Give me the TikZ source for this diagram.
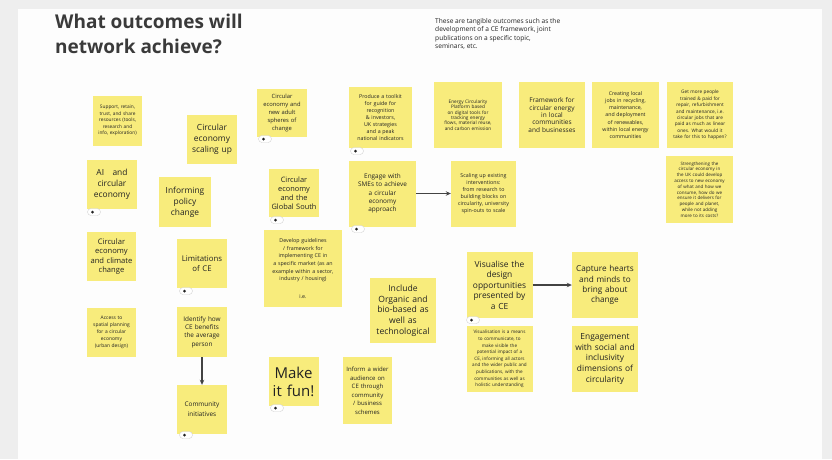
\documentclass[tikz,border=0pt]{standalone}
\usepackage{fontspec}
\setmainfont{Open Sans}
\usetikzlibrary{arrows.meta}
\definecolor{sticky}{RGB}{248,236,124}
\definecolor{ink}{RGB}{34,34,34}
\definecolor{titleink}{RGB}{58,58,58}
\definecolor{boardbg}{RGB}{253,253,253}
\definecolor{outerbg}{RGB}{238,238,238}
\definecolor{pillline}{RGB}{210,210,210}
\newcommand{\fsz}[2]{\fontsize{#1}{#2}\selectfont}
% sticky notes break lines between words only
\hyphenpenalty=10000
\exhyphenpenalty=10000
\begin{document}
\begin{tikzpicture}[x=1pt,y=-1pt,
  note/.style n args={3}{fill=sticky, draw=none, inner sep=0pt,
    minimum width=#1, minimum height=#2, text width=#3,
    align=center, text=ink},
  avatar/.style={fill=white, draw=pillline, line width=0.4pt,
    rounded corners=3.5pt, minimum width=13pt, minimum height=7pt, inner sep=0pt},
  link/.style={draw=ink!85, line width=1.1pt, -{Stealth[length=5pt,width=4.5pt]}},
]
% canvas
\fill[outerbg] (0,0) rectangle (832,459);
\fill[boardbg] (18,9) rectangle (822,459);
\useasboundingbox (0,0) rectangle (832,459);

% heading and explanation
\node[anchor=north west, inner sep=0pt, align=left, text=titleink,
  font=\fsz{19}{24.5}\bfseries] (title) at (55,14)
  {What outcomes will\\network achieve?};
\node[anchor=north west, inner sep=0pt, align=left, text=ink,
  font=\fsz{6.6}{8.5}] (intro) at (435,18)
  {These are tangible outcomes such as the\\development of a CE framework, joint\\publications on a specific topic,\\seminars, etc.};

% left columns
\node[note={49pt}{50pt}{42pt}, font=\fsz{4.8}{6.5}] (n1) at (117.5,120.5)
  {Support, retain, trust, and share resources (tools, research and info, exploration)};
\node[note={50pt}{49pt}{44pt}, font=\fsz{8.4}{11}] (n2) at (212,139.5)
  {Circular economy scaling up};
\node[note={50pt}{48pt}{44pt}, font=\fsz{5.8}{8}] (n3) at (282,113)
  {Circular\\economy and\\new adult\\spheres of\\change};
\node[note={50pt}{49pt}{46pt}, font=\fsz{8.4}{11}] (n10) at (112,184.5)
  {AI\quad and circular economy};
\node[note={52pt}{50pt}{46pt}, font=\fsz{8.4}{11}] (n11) at (185,202)
  {Informing policy change};
\node[note={50pt}{48pt}{48pt}, font=\fsz{7.4}{9}] (n12) at (294,193)
  {Circular economy and the Global South};
\node[note={49pt}{49pt}{46pt}, font=\fsz{7.6}{9.5}] (n16) at (111.5,256.5)
  {Circular economy and climate change};
\node[note={50pt}{49pt}{44pt}, font=\fsz{7.8}{10}] (n17) at (202,263.5)
  {Limitations of CE};
\node[note={49pt}{49pt}{38pt}, font=\fsz{4.9}{7}] (n25) at (111.5,332.5)
  {Access to spatial planning for a circular economy (urban design)};
\node[note={50pt}{50pt}{44pt}, font=\fsz{6.4}{8.3}] (n26) at (202,332)
  {Identify how CE benefits the average person};
\node[note={50pt}{49pt}{44pt}, font=\fsz{6.4}{10}] (n28) at (202,409.5)
  {Community initiatives};

% middle columns
\node[note={63pt}{61pt}{48pt}, font=\fsz{5.3}{7}] (n4) at (380.5,117.5)
  {Produce a toolkit for guide for recognition \& investors, UK strategies and a peak national indicators};
\node[note={67pt}{66pt}{54pt}, font=\fsz{6.4}{8.4}] (n13) at (382.5,193.5)
  {Engage with SMEs to achieve a circular economy approach};
\node[note={65pt}{66pt}{52pt}, font=\fsz{5.3}{7}] (n15) at (483.5,193.5)
  {Scaling up existing interventions: from research to building blocks on circularity, university spin-outs to scale};
\node[note={78pt}{77pt}{62pt}, font=\fsz{5.3}{7.7}] (n18) at (303,268.5)
  {Develop guidelines / framework for implementing CE in a specific market (as an example within a sector, industry / housing)\\[10pt]i.e.};
\node[note={66pt}{65pt}{64pt}, font=\fsz{8.6}{10.7}] (n19) at (403,310.5)
  {Include\\Organic and\\bio-based as\\well as\\technological};
\node[note={50pt}{49pt}{44pt}, font=\fsz{15}{18}] (n29) at (293.5,381.5)
  {Make it fun!};
\node[note={49pt}{67pt}{47pt}, font=\fsz{6}{8.5}] (n30) at (367.5,390.5)
  {Inform a wider audience on CE through community / business schemes};

% right columns
\node[note={68pt}{66pt}{48pt}, font=\fsz{4.7}{5.4}] (n5) at (468,115)
  {Energy Circularity Platform based on digital tools for tracking energy flows, material reuse, and carbon emission};
\node[note={66pt}{66pt}{62pt}, font=\fsz{6.5}{7.4}] (n6) at (552,115)
  {Framework for\\circular energy\\in local\\communities\\and businesses};
\node[note={67pt}{66pt}{48pt}, font=\fsz{5.2}{7.3}] (n7) at (625.5,115)
  {Creating local jobs in recycling, maintenance, and deployment of renewables, within local energy communities};
\node[note={66pt}{66pt}{56pt}, font=\fsz{4.7}{6.4}] (n8) at (700,115)
  {Get more people trained \& paid for repair, refurbishment and maintenance, i.e. circular jobs that are paid as much as linear ones. What would it take for this to happen?};
\node[note={67pt}{67pt}{52pt}, font=\fsz{4.5}{5.8}] (n9) at (699.5,189.5)
  {Strengthening the circular economy in the UK could develop access to new economy of what and how we consume, how do we ensure it delivers for people and planet, while not adding more to its costs?};
\node[note={66pt}{66pt}{64pt}, font=\fsz{8.4}{10.5}] (n20) at (499.5,285)
  {Visualise the\\design\\opportunities\\presented by\\a CE};
\node[note={66pt}{66pt}{64pt}, font=\fsz{8.2}{10.2}] (n22) at (605,285)
  {Capture hearts\\and minds to\\bring about\\change};
\node[note={66pt}{66pt}{56pt}, font=\fsz{4.6}{6.6}] (n23) at (499.5,359)
  {Visualisation is a means to communicate, to make visible the potential impact of a CE, informing all actors and the wider public and publications, with the communities as well as holistic understanding};
\node[note={66pt}{66pt}{64pt}, font=\fsz{8.4}{10.6}] (n24) at (605,359)
  {Engagement\\with social and\\inclusivity\\dimensions of\\circularity};

% connectors
\draw[link] (n13) -- (n15);
\draw[link] (n20) -- (n22);
\draw[link] (n26) -- (n28);

% author badges under some notes
\foreach \who/\px/\py in {b3/265/139, b4/357/151, b10/94/212, b12/277/220,
    b13/358/229, b17/186/291, b20/473/320, b28/186/435, b29/277/408} {
  \node[avatar] (\who) at (\px,\py) {};
  \fill[ink] ([xshift=-1.5pt]\who.center) circle (1.5pt);
}
\end{tikzpicture}
\end{document}
